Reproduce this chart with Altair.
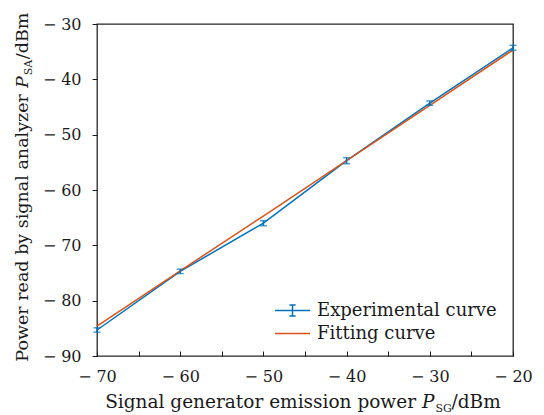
import altair as alt
import pandas as pd

# ---- data ----
x_dbm = [-70, -60, -50, -40, -30, -20]
exp_dbm = [-85.3, -74.7, -66.0, -54.7, -44.3, -34.3]
exp_err = [0.4, 0.4, 0.45, 0.55, 0.4, 0.45]
fit_dbm = [-84.6, -74.6, -64.7, -54.7, -44.7, -34.7]
series_names = ["Experimental curve", "Fitting curve"]
x_ticks = [-70, -60, -50, -40, -30, -20]
x_minor = [-70, -65, -60, -55, -50, -45, -40, -35, -30, -25, -20]
y_ticks = [-90, -80, -70, -60, -50, -40, -30]
x_title = ["Signal generator emission power", "P", "SG", "/dBm"]
y_title = ["Power read by signal analyzer", "P", "SA", "/dBm"]

BLUE = "#0072BD"
ORANGE = "#D95319"
INK = "#1a1a1a"
FONT = "DejaVu Serif"
W, H = 416, 332

lines_df = pd.DataFrame({
    "x": x_dbm + x_dbm,
    "y": exp_dbm + fit_dbm,
    "series": [series_names[0]] * len(x_dbm) + [series_names[1]] * len(x_dbm),
})
err_df = pd.DataFrame({"x": x_dbm, "y": exp_dbm, "e": exp_err})

xscale = alt.Scale(domain=[-70, -20], nice=False, zero=False)
yscale = alt.Scale(domain=[-90, -30], nice=False, zero=False)
minus_expr = "datum.value < 0 ? '\u2212\u2009\u200a' + abs(datum.value) : '' + datum.value"

y_axis = alt.Axis(orient="left", values=y_ticks, tickSize=5, tickColor=INK, tickWidth=1,
                  domain=False, grid=False, labelExpr=minus_expr, labelFont=FONT,
                  labelFontSize=16, labelColor=INK, labelPadding=11, labelFlush=False, title=None)

lines = alt.Chart(lines_df).mark_line(strokeWidth=1.5).encode(
    x=alt.X("x:Q", scale=xscale,
            axis=alt.Axis(orient="bottom", values=x_ticks, ticks=False, domain=False, grid=False,
                          labelExpr=minus_expr, labelFont=FONT, labelFontSize=16, labelColor=INK,
                          labelPadding=12, labelFlush=False, labelOverlap=False, title=None)),
    y=alt.Y("y:Q", scale=yscale, axis=y_axis),
    color=alt.Color("series:N", scale=alt.Scale(domain=series_names, range=[BLUE, ORANGE]),
                    legend=alt.Legend(
                        orient="none", legendX=186.5, legendY=277.5, title=None, padding=0,
                        symbolType={"expr": "datum.value === 'Experimental curve' ? 'M-2.5,0H2.5M0,-0.8V0.8M-0.45,-0.8H0.45M-0.45,0.8H0.45' : 'M-2.5,0H2.5'"},
                        symbolSize=196, symbolStrokeWidth=1.5, symbolFillColor="transparent",
                        labelFont=FONT, labelFontSize=18, labelColor=INK, labelOffset=15.5,
                        labelLimit=0, rowPadding=5)),
)

bars = alt.Chart(err_df).transform_calculate(
    lo="datum.y - datum.e", hi="datum.y + datum.e"
).mark_rule(color=BLUE, strokeWidth=1.5).encode(
    x=alt.X("x:Q", scale=xscale,
            axis=alt.Axis(orient="top", offset=-H, values=x_minor, labels=False, domain=False,
                          ticks=True, tickSize=5, tickColor=INK, tickWidth=1, grid=False, title=None)),
    y=alt.Y("lo:Q", scale=yscale, axis=y_axis),
    y2="hi:Q",
)

caps = alt.Chart(err_df).transform_calculate(
    lo="datum.y - datum.e", hi="datum.y + datum.e"
).transform_fold(["lo", "hi"], as_=["k", "v"]).mark_tick(
    color=BLUE, orient="horizontal", size=7, thickness=1.5
).encode(
    x=alt.X("x:Q", scale=xscale, axis=None),
    y=alt.Y("v:Q", scale=yscale, axis=y_axis),
)


def piece(text, x, y, size, align, italic=False, angle=0, dy=0):
    kw = dict(font=FONT, fontSize=size, align=align, baseline="alphabetic", color=INK, dy=dy)
    if italic:
        kw["fontStyle"] = "italic"
    if angle:
        kw["angle"] = angle
    return alt.Chart(pd.DataFrame({"t": [text]})).mark_text(**kw).encode(
        text="t:N", x=alt.value(x), y=alt.value(y))


XS = 18.5
xj = 325
xb = 383.5
xt = [
    piece(x_title[0], xj - 6, xb, XS, "right"),
    piece(x_title[1], xj, xb, XS, "left", italic=True),
    piece(x_title[2], xj + 13.5, xb, 11, "left", dy=4),
    piece(x_title[3], xj + 13.5 + 16, xb, XS, "left"),
]

YS = 17.5
yj = 64
yx = -69
yt = [
    piece(y_title[0], yx, yj + 6, YS, "right", angle=270),
    piece(y_title[1], yx, yj, YS, "left", italic=True, angle=270),
    piece(y_title[2], yx, yj - 12.8, 11, "left", angle=270, dy=4),
    piece(y_title[3], yx, yj - 12.8 - 16, YS, "left", angle=270),
]

chart = alt.layer(lines, bars, caps, *xt, *yt).resolve_axis(x="independent").properties(
    width=W, height=H,
    autosize=alt.AutoSizeParams(type="none"),
    padding={"left": 89, "top": 16, "right": 23, "bottom": 58},
).configure(font=FONT).configure_axis(labelFont=FONT).configure_legend(labelFont=FONT).configure_view(
    stroke="#262626", strokeWidth=1.3)

chart.save("out.html", embed_options={"renderer": "svg", "actions": False})
